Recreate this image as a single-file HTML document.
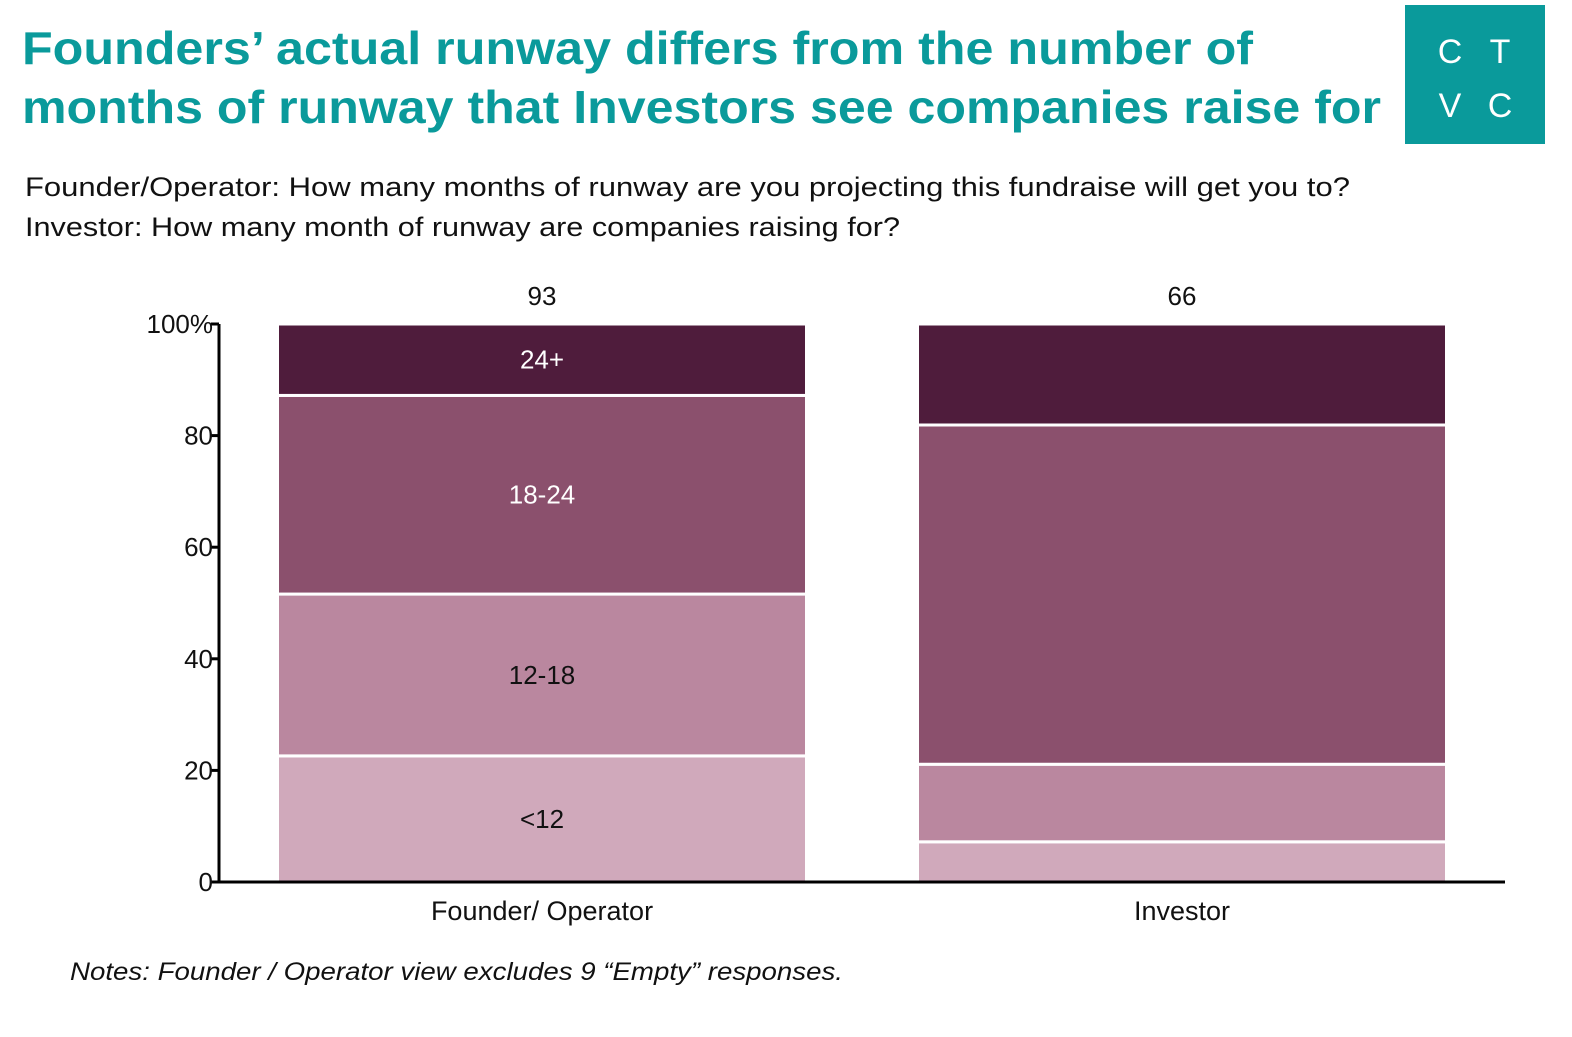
<!DOCTYPE html>
<html><head><meta charset="utf-8"><style>
body{margin:0;width:1572px;height:1032px;background:#fff;overflow:hidden;font-family:"Liberation Sans",sans-serif}
</style></head><body>
<svg width="1572" height="1032" xmlns="http://www.w3.org/2000/svg">
<text x="22" y="64" font-size="46" font-weight="bold" fill="#0a9a9b" textLength="1231" lengthAdjust="spacingAndGlyphs">Founders’ actual runway differs from the number of</text>
<text x="22" y="123" font-size="46" font-weight="bold" fill="#0a9a9b" textLength="1359" lengthAdjust="spacingAndGlyphs">months of runway that Investors see companies raise for</text>
<g>
<rect x="1405" y="5" width="140" height="139" fill="#0a9a9b"/>
<text x="1450" y="63" font-size="34" fill="#fff" text-anchor="middle">C</text>
<text x="1500" y="63" font-size="34" fill="#fff" text-anchor="middle">T</text>
<text x="1450" y="117" font-size="34" fill="#fff" text-anchor="middle">V</text>
<text x="1500" y="117" font-size="34" fill="#fff" text-anchor="middle">C</text>
</g>
<text x="25" y="196" font-size="27" fill="#111" textLength="1325" lengthAdjust="spacingAndGlyphs">Founder/Operator: How many months of runway are you projecting this fundraise will get you to?</text>
<text x="25" y="236" font-size="27" fill="#111" textLength="875" lengthAdjust="spacingAndGlyphs">Investor: How many month of runway are companies raising for?</text>
<g id="plot"></g>
<text x="70" y="980" font-size="25" font-style="italic" fill="#111" textLength="773" lengthAdjust="spacingAndGlyphs">Notes: Founder / Operator view excludes 9 “Empty” responses.</text>
</svg>
<script>
const categories=["Founder/ Operator","Investor"];
const counts=["93","66"];
const seriesNames=["<12","12-18","18-24","24+"];
const under12=[22.6,7.2];
const m12to18=[29.0,13.9];
const m18to24=[35.6,60.8];
const over24=[12.8,18.1];
const yTicks=[0,20,40,60,80,100];
const colors=["#d0a9bb","#ba879f","#8b506d","#4f1c3c"];
const labelColors=["#111","#111","#fff","#fff"];
const series=[under12,m12to18,m18to24,over24];
const NS="http://www.w3.org/2000/svg";
const g=document.getElementById('plot');
const y0=882,y100=324,xL=219,xR=1505,bw=529;
const y=v=>y0-(v/100)*(y0-y100);
const xc=i=>542+i*640;
function el(t,a){const e=document.createElementNS(NS,t);for(const k in a)e.setAttribute(k,a[k]);g.appendChild(e);return e;}
categories.forEach((c,i)=>{
 let cum=0;
 series.forEach((s,j)=>{
  const v=s[i];
  const r=el('rect',{x:xc(i)-bw/2,y:y(cum+v),width:bw,height:y(cum)-y(cum+v),fill:colors[j],stroke:'#fff','stroke-width':3});
  
  
  if(i===0){
   const t=el('text',{x:xc(i),y:(y(cum)+y(cum+v))/2+9,'font-size':26,'text-anchor':'middle',fill:labelColors[j]});
   t.textContent=seriesNames[j];
   
   
  }
  cum+=v;
 });
 const n=el('text',{x:xc(i),y:305,'font-size':26,'text-anchor':'middle',fill:'#111'});
 n.textContent=counts[i];
 
 
 const l=el('text',{x:xc(i),y:920,'font-size':27,'text-anchor':'middle',fill:'#111'});
 l.textContent=c;
 
 
});
const ya=el('line',{x1:xL,y1:y100,x2:xL,y2:y0+1.5,stroke:'#000','stroke-width':3});


const xa=el('line',{x1:xL-1.5,y1:y0,x2:xR,y2:y0,stroke:'#000','stroke-width':3});


yTicks.forEach(v=>{
 const tk=el('line',{x1:xL-8,y1:y(v),x2:xL,y2:y(v),stroke:'#000','stroke-width':3});
 
 
 const t=el('text',{x:xL-6,y:y(v)+9,'font-size':26,'text-anchor':'end',fill:'#111'});
 t.textContent=v===100?'100%':v;
 
 
});
</script>
</body></html>
